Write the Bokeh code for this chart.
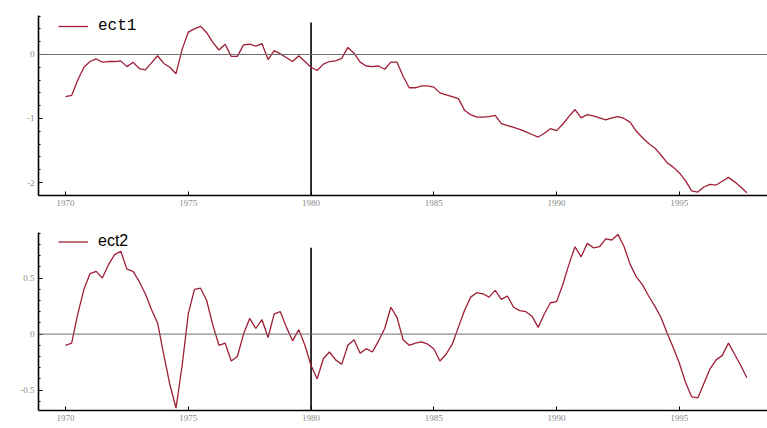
from bokeh.plotting import figure
from bokeh.layouts import column
from bokeh.models import FixedTicker, Legend, LegendItem, Span
from bokeh.embed import file_html
from bokeh.resources import INLINE

# quarterly observations 1970Q1 .. 1997Q4
start_year = 1970
n_quarters = 112
quarters = [start_year + i / 4 for i in range(n_quarters)]

ect1 = [-0.66, -0.64, -0.40, -0.20, -0.11, -0.07, -0.12, -0.11, -0.11, -0.10,
        -0.19, -0.12, -0.22, -0.24, -0.13, -0.02, -0.14, -0.20, -0.30, 0.08,
        0.35, 0.40, 0.44, 0.34, 0.19, 0.07, 0.16, -0.03, -0.03, 0.15,
        0.16, 0.13, 0.17, -0.08, 0.06, 0.01, -0.05, -0.11, -0.02, -0.11,
        -0.20, -0.25, -0.15, -0.11, -0.10, -0.06, 0.11, 0.02, -0.12, -0.18,
        -0.19, -0.18, -0.23, -0.12, -0.12, -0.34, -0.52, -0.52, -0.49, -0.49,
        -0.51, -0.60, -0.63, -0.66, -0.69, -0.87, -0.94, -0.98, -0.98, -0.97,
        -0.95, -1.08, -1.11, -1.14, -1.17, -1.21, -1.25, -1.29, -1.23, -1.16,
        -1.19, -1.09, -0.97, -0.86, -0.99, -0.94, -0.96, -0.99, -1.02, -0.99,
        -0.97, -1.00, -1.06, -1.20, -1.30, -1.39, -1.46, -1.57, -1.69, -1.76,
        -1.85, -1.97, -2.13, -2.15, -2.07, -2.03, -2.04, -1.98, -1.92, -1.99,
        -2.07, -2.16]

ect2 = [-0.10, -0.08, 0.18, 0.40, 0.54, 0.56, 0.50, 0.62, 0.71, 0.74,
        0.58, 0.56, 0.47, 0.36, 0.22, 0.10, -0.18, -0.45, -0.66, -0.28,
        0.18, 0.40, 0.41, 0.30, 0.08, -0.10, -0.08, -0.24, -0.20, 0.00,
        0.14, 0.05, 0.13, -0.03, 0.18, 0.20, 0.06, -0.06, 0.04, -0.10,
        -0.28, -0.40, -0.22, -0.16, -0.23, -0.27, -0.10, -0.05, -0.17, -0.13,
        -0.16, -0.06, 0.05, 0.24, 0.15, -0.05, -0.10, -0.08, -0.07, -0.09,
        -0.13, -0.24, -0.18, -0.09, 0.06, 0.21, 0.33, 0.37, 0.36, 0.33,
        0.39, 0.31, 0.34, 0.24, 0.21, 0.20, 0.16, 0.06, 0.18, 0.28,
        0.29, 0.44, 0.62, 0.78, 0.69, 0.81, 0.77, 0.78, 0.85, 0.84,
        0.89, 0.78, 0.62, 0.51, 0.44, 0.34, 0.25, 0.15, 0.01, -0.12,
        -0.26, -0.43, -0.56, -0.57, -0.44, -0.31, -0.23, -0.19, -0.08, -0.18,
        -0.28, -0.39]

x_ticks = [1970, 1975, 1980, 1985, 1990, 1995]
x_labels = ["1970", "1975", "1980", "1985", "1990", "1995"]
y1_ticks = [-2, -1, 0]
y1_labels = ["-2", "-1", "0"]
y2_ticks = [-0.5, 0, 0.5]
y2_labels = ["-0.5", "0", "0.5"]
break_year = 1980

LINE = "#9e1f35"
GRAY_TXT = "#8a8a8a"


def make_panel(x, y, name, yrange, yticks, ylabels, yminor, vtop,
               height, border_top, border_bottom, legend_font, legend_vy,
               legend_h):
    p = figure(width=767, height=height, output_backend="svg",
               toolbar_location=None, x_range=(1968.90, 1998.59),
               y_range=yrange, min_border_left=38, min_border_right=0,
               min_border_top=border_top, min_border_bottom=border_bottom)
    p.outline_line_color = None
    p.grid.visible = False
    p.background_fill_color = "white"

    zero = Span(location=0, dimension="width", line_color="#6e6e6e",
                line_width=1)
    p.add_layout(zero)
    p.segment(x0=[break_year], y0=[yrange[0]], x1=[break_year], y1=[vtop],
              line_color="black", line_width=1.6)

    r = p.line(x, y, line_color=LINE, line_width=1.3)

    p.xaxis.ticker = FixedTicker(ticks=x_ticks)
    p.xaxis.major_label_overrides = dict(zip(x_ticks, x_labels))
    p.yaxis.ticker = FixedTicker(ticks=yticks, minor_ticks=yminor)
    p.yaxis.major_label_overrides = dict(zip(yticks, ylabels))

    for ax in (p.xaxis[0], p.yaxis[0]):
        ax.axis_line_color = "black"
        ax.axis_line_width = 1.6
        ax.major_tick_in = 4
        ax.major_tick_out = 0
        ax.major_tick_line_color = "black"
        ax.major_label_text_font = "Liberation Serif"
        ax.major_label_text_font_size = "9px"
        ax.major_label_text_color = GRAY_TXT
        ax.major_label_standoff = 4
    p.xaxis.minor_tick_line_color = None
    p.yaxis.minor_tick_in = 2
    p.yaxis.minor_tick_out = 0
    p.yaxis.minor_tick_line_color = "black"

    legend = Legend(items=[LegendItem(label=name, renderers=[r])],
                    location=(20, legend_vy))
    legend.margin = 0
    legend.padding = 0
    legend.border_line_color = None
    legend.background_fill_alpha = 0
    legend.glyph_width = 30
    legend.glyph_height = legend_h
    legend.label_height = legend_h
    legend.label_standoff = 10
    legend.label_text_font = legend_font
    legend.label_text_font_size = "16px"
    legend.label_text_color = "black"
    p.add_layout(legend)
    return p


p1 = make_panel(quarters, ect1, "ect1", (-2.203, 0.609), y1_ticks, y1_labels,
                [round(-2.2 + 0.2 * k, 2) for k in range(15)], 0.5,
                height=217, border_top=15, border_bottom=22,
                legend_font="Liberation Mono", legend_vy=159, legend_h=20)
p2 = make_panel(quarters, ect2, "ect2", (-0.682, 0.907), y2_ticks, y2_labels,
                [round(-0.6 + 0.1 * k, 2) for k in range(16)], 0.77,
                height=211, border_top=15, border_bottom=18,
                legend_font="Liberation Sans", legend_vy=160, legend_h=17)

layout = column(p1, p2, spacing=0)
open("out.html", "w").write(file_html(layout, INLINE))
